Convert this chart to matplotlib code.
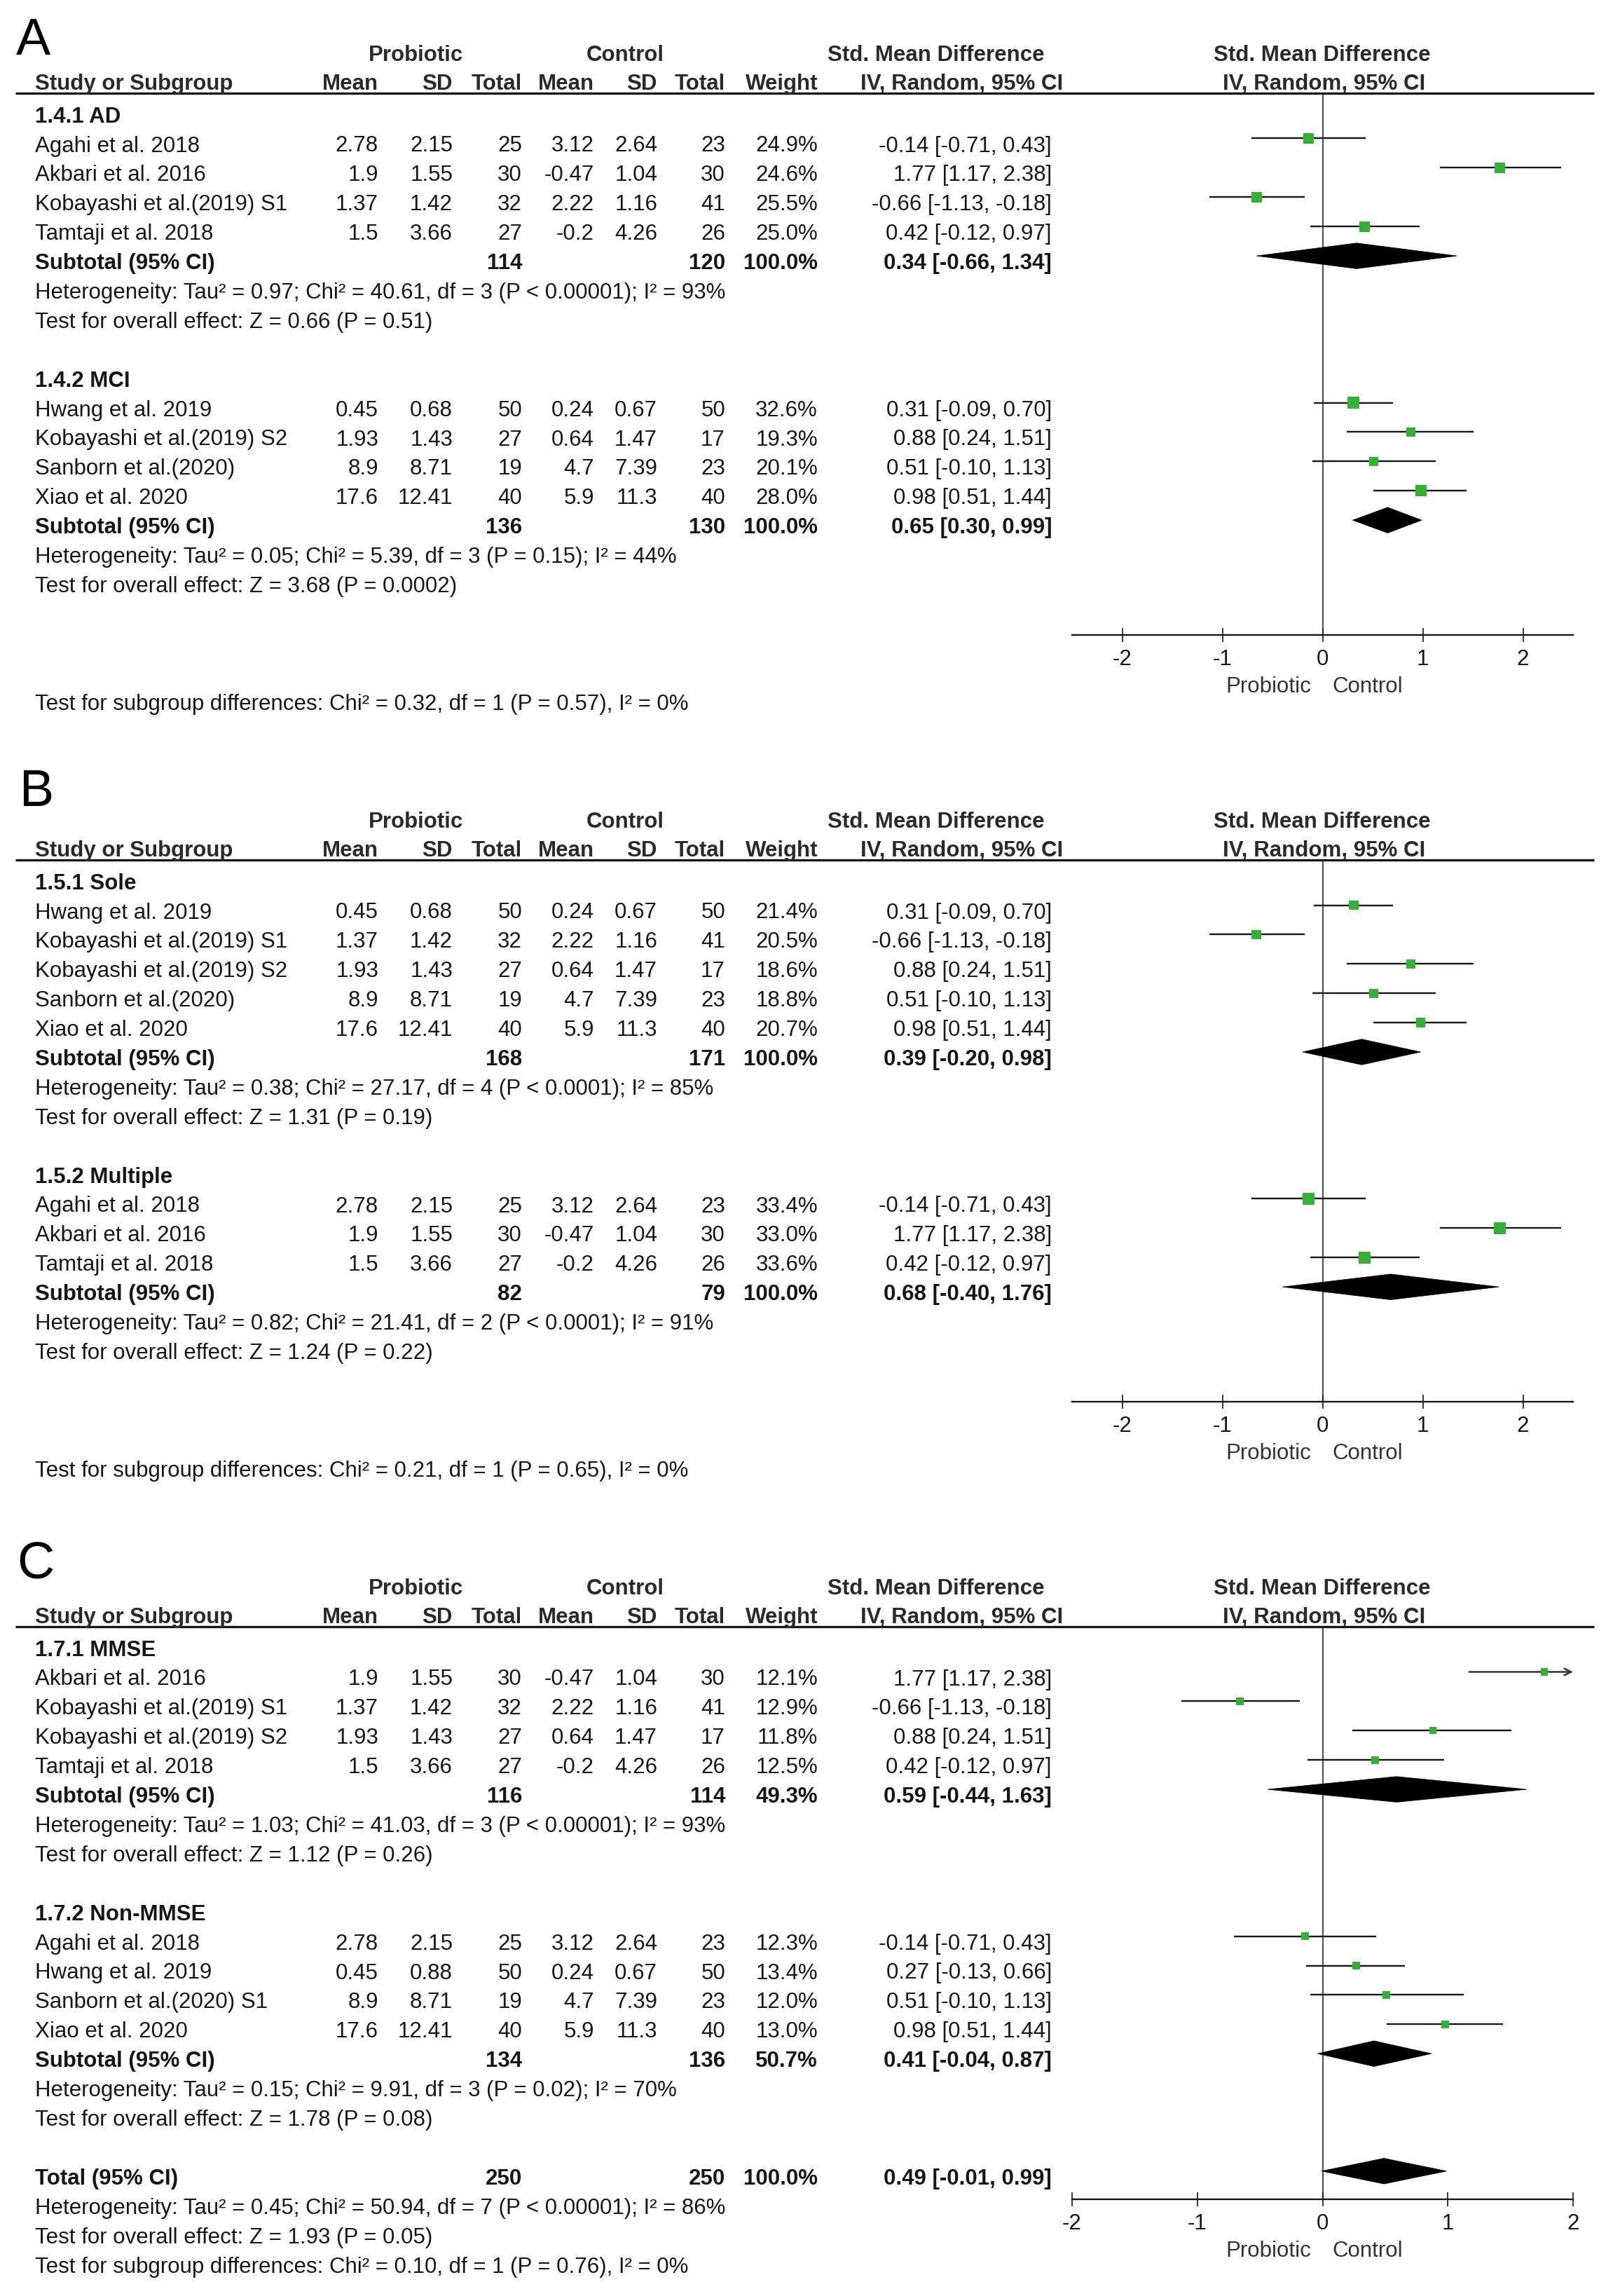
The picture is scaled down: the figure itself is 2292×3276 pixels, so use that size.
import matplotlib.pyplot as plt
from matplotlib.patches import Polygon

plt.rcParams['font.family'] = ['Liberation Sans', 'DejaVu Sans']

W, H, DPI = 2292, 3276, 100
FS = 22.5
INK = '#161616'
HEAD = '#2a2a2a'
GREEN = '#33b035'

# ---------------- panel A ----------------
ad_names = ["Agahi et al. 2018", "Akbari et al. 2016", "Kobayashi et al.(2019) S1", "Tamtaji et al. 2018"]
ad_p_mean = [2.78, 1.9, 1.37, 1.5]
ad_p_sd = [2.15, 1.55, 1.42, 3.66]
ad_p_n = [25, 30, 32, 27]
ad_c_mean = [3.12, -0.47, 2.22, -0.2]
ad_c_sd = [2.64, 1.04, 1.16, 4.26]
ad_c_n = [23, 30, 41, 26]
ad_weight = [24.9, 24.6, 25.5, 25.0]
ad_smd = [-0.14, 1.77, -0.66, 0.42]
ad_lo = [-0.71, 1.17, -1.13, -0.12]
ad_hi = [0.43, 2.38, -0.18, 0.97]
ad_sub = [114, 120, 100.0, 0.34, -0.66, 1.34]
ad_het = "Heterogeneity: Tau² = 0.97; Chi² = 40.61, df = 3 (P < 0.00001); I² = 93%"
ad_z = "Test for overall effect: Z = 0.66 (P = 0.51)"

mci_names = ["Hwang et al. 2019", "Kobayashi et al.(2019) S2", "Sanborn et al.(2020)", "Xiao et al. 2020"]
mci_p_mean = [0.45, 1.93, 8.9, 17.6]
mci_p_sd = [0.68, 1.43, 8.71, 12.41]
mci_p_n = [50, 27, 19, 40]
mci_c_mean = [0.24, 0.64, 4.7, 5.9]
mci_c_sd = [0.67, 1.47, 7.39, 11.3]
mci_c_n = [50, 17, 23, 40]
mci_weight = [32.6, 19.3, 20.1, 28.0]
mci_smd = [0.31, 0.88, 0.51, 0.98]
mci_lo = [-0.09, 0.24, -0.10, 0.51]
mci_hi = [0.70, 1.51, 1.13, 1.44]
mci_sub = [136, 130, 100.0, 0.65, 0.30, 0.99]
mci_het = "Heterogeneity: Tau² = 0.05; Chi² = 5.39, df = 3 (P = 0.15); I² = 44%"
mci_z = "Test for overall effect: Z = 3.68 (P = 0.0002)"
a_subgroup = "Test for subgroup differences: Chi² = 0.32, df = 1 (P = 0.57), I² = 0%"

# ---------------- panel B ----------------
sole_names = ["Hwang et al. 2019", "Kobayashi et al.(2019) S1", "Kobayashi et al.(2019) S2",
              "Sanborn et al.(2020)", "Xiao et al. 2020"]
sole_p_mean = [0.45, 1.37, 1.93, 8.9, 17.6]
sole_p_sd = [0.68, 1.42, 1.43, 8.71, 12.41]
sole_p_n = [50, 32, 27, 19, 40]
sole_c_mean = [0.24, 2.22, 0.64, 4.7, 5.9]
sole_c_sd = [0.67, 1.16, 1.47, 7.39, 11.3]
sole_c_n = [50, 41, 17, 23, 40]
sole_weight = [21.4, 20.5, 18.6, 18.8, 20.7]
sole_smd = [0.31, -0.66, 0.88, 0.51, 0.98]
sole_lo = [-0.09, -1.13, 0.24, -0.10, 0.51]
sole_hi = [0.70, -0.18, 1.51, 1.13, 1.44]
sole_sub = [168, 171, 100.0, 0.39, -0.20, 0.98]
sole_het = "Heterogeneity: Tau² = 0.38; Chi² = 27.17, df = 4 (P < 0.0001); I² = 85%"
sole_z = "Test for overall effect: Z = 1.31 (P = 0.19)"

mult_names = ["Agahi et al. 2018", "Akbari et al. 2016", "Tamtaji et al. 2018"]
mult_p_mean = [2.78, 1.9, 1.5]
mult_p_sd = [2.15, 1.55, 3.66]
mult_p_n = [25, 30, 27]
mult_c_mean = [3.12, -0.47, -0.2]
mult_c_sd = [2.64, 1.04, 4.26]
mult_c_n = [23, 30, 26]
mult_weight = [33.4, 33.0, 33.6]
mult_smd = [-0.14, 1.77, 0.42]
mult_lo = [-0.71, 1.17, -0.12]
mult_hi = [0.43, 2.38, 0.97]
mult_sub = [82, 79, 100.0, 0.68, -0.40, 1.76]
mult_het = "Heterogeneity: Tau² = 0.82; Chi² = 21.41, df = 2 (P < 0.0001); I² = 91%"
mult_z = "Test for overall effect: Z = 1.24 (P = 0.22)"
b_subgroup = "Test for subgroup differences: Chi² = 0.21, df = 1 (P = 0.65), I² = 0%"

# ---------------- panel C ----------------
mmse_names = ["Akbari et al. 2016", "Kobayashi et al.(2019) S1", "Kobayashi et al.(2019) S2", "Tamtaji et al. 2018"]
mmse_p_mean = [1.9, 1.37, 1.93, 1.5]
mmse_p_sd = [1.55, 1.42, 1.43, 3.66]
mmse_p_n = [30, 32, 27, 27]
mmse_c_mean = [-0.47, 2.22, 0.64, -0.2]
mmse_c_sd = [1.04, 1.16, 1.47, 4.26]
mmse_c_n = [30, 41, 17, 26]
mmse_weight = [12.1, 12.9, 11.8, 12.5]
mmse_smd = [1.77, -0.66, 0.88, 0.42]
mmse_lo = [1.17, -1.13, 0.24, -0.12]
mmse_hi = [2.38, -0.18, 1.51, 0.97]
mmse_sub = [116, 114, 49.3, 0.59, -0.44, 1.63]
mmse_het = "Heterogeneity: Tau² = 1.03; Chi² = 41.03, df = 3 (P < 0.00001); I² = 93%"
mmse_z = "Test for overall effect: Z = 1.12 (P = 0.26)"

non_names = ["Agahi et al. 2018", "Hwang et al. 2019", "Sanborn et al.(2020) S1", "Xiao et al. 2020"]
non_p_mean = [2.78, 0.45, 8.9, 17.6]
non_p_sd = [2.15, 0.88, 8.71, 12.41]
non_p_n = [25, 50, 19, 40]
non_c_mean = [3.12, 0.24, 4.7, 5.9]
non_c_sd = [2.64, 0.67, 7.39, 11.3]
non_c_n = [23, 50, 23, 40]
non_weight = [12.3, 13.4, 12.0, 13.0]
non_smd = [-0.14, 0.27, 0.51, 0.98]
non_lo = [-0.71, -0.13, -0.10, 0.51]
non_hi = [0.43, 0.66, 1.13, 1.44]
non_sub = [134, 136, 50.7, 0.41, -0.04, 0.87]
non_het = "Heterogeneity: Tau² = 0.15; Chi² = 9.91, df = 3 (P = 0.02); I² = 70%"
non_z = "Test for overall effect: Z = 1.78 (P = 0.08)"

c_total = [250, 250, 100.0, 0.49, -0.01, 0.99]
c_total_het = "Heterogeneity: Tau² = 0.45; Chi² = 50.94, df = 7 (P < 0.00001); I² = 86%"
c_total_z = "Test for overall effect: Z = 1.93 (P = 0.05)"
c_subgroup = "Test for subgroup differences: Chi² = 0.10, df = 1 (P = 0.76), I² = 0%"

ticks = [-2, -1, 0, 1, 2]


def group(title, names, pm, psd, pn, cm, csd, cn, w, smd, lo, hi, sub, het, z):
    return dict(title=title, names=names, pm=pm, psd=psd, pn=pn, cm=cm, csd=csd,
                cn=cn, w=w, smd=smd, lo=lo, hi=hi, sub=sub, het=het, z=z)


panel_a = [group("1.4.1 AD", ad_names, ad_p_mean, ad_p_sd, ad_p_n, ad_c_mean, ad_c_sd, ad_c_n,
                 ad_weight, ad_smd, ad_lo, ad_hi, ad_sub, ad_het, ad_z),
           group("1.4.2 MCI", mci_names, mci_p_mean, mci_p_sd, mci_p_n, mci_c_mean, mci_c_sd,
                 mci_c_n, mci_weight, mci_smd, mci_lo, mci_hi, mci_sub, mci_het, mci_z)]
panel_b = [group("1.5.1 Sole", sole_names, sole_p_mean, sole_p_sd, sole_p_n, sole_c_mean,
                 sole_c_sd, sole_c_n, sole_weight, sole_smd, sole_lo, sole_hi, sole_sub,
                 sole_het, sole_z),
           group("1.5.2 Multiple", mult_names, mult_p_mean, mult_p_sd, mult_p_n, mult_c_mean,
                 mult_c_sd, mult_c_n, mult_weight, mult_smd, mult_lo, mult_hi, mult_sub,
                 mult_het, mult_z)]
panel_c = [group("1.7.1 MMSE", mmse_names, mmse_p_mean, mmse_p_sd, mmse_p_n, mmse_c_mean,
                 mmse_c_sd, mmse_c_n, mmse_weight, mmse_smd, mmse_lo, mmse_hi, mmse_sub,
                 mmse_het, mmse_z),
           group("1.7.2 Non-MMSE", non_names, non_p_mean, non_p_sd, non_p_n, non_c_mean,
                 non_c_sd, non_c_n, non_weight, non_smd, non_lo, non_hi, non_sub,
                 non_het, non_z)]

# layout (pixels)
M0, DY, BASE = 155.6, 41.9, 19.0
X0, X1 = 1530, 2245
COLS = dict(name=50, pm=540, psd=646, pn=745, cm=848, csd=938, cn=1035, w=1167, ci=1501)

fig = plt.figure(figsize=(W / DPI, H / DPI), dpi=DPI)
tab = fig.add_axes([0, 0, 1, 1])
tab.set_xlim(0, W)
tab.set_ylim(H, 0)
tab.axis('off')


def txt(x, y, s, ha='right', bold=False, color=INK, size=FS):
    tab.text(x, y, s, ha=ha, va='baseline', fontsize=size,
             fontweight='bold' if bold else 'normal', color=color)


def ci_str(e, lo, hi):
    return f"{e:.2f} [{lo:.2f}, {hi:.2f}]"


def summary_row(y, label, vals):
    txt(COLS['name'], y, label, ha='left', bold=True)
    txt(COLS['pn'], y, str(vals[0]), bold=True)
    txt(COLS['cn'], y, str(vals[1]), bold=True)
    txt(COLS['w'], y, f"{vals[2]:.1f}%", bold=True)
    txt(COLS['ci'], y, ci_str(*vals[3:]), bold=True)


def panel(off, letter, letter_pos, groups, lim, axis_row, total=None, subgroup=""):
    row_y = lambda r: off + M0 + r * DY + BASE
    # headers
    txt(letter_pos[0], off + letter_pos[1], letter, ha='left', size=53, color='black')
    for x, s in [(593, "Probiotic"), (892, "Control"), (1336, "Std. Mean Difference"),
                 (1887, "Std. Mean Difference")]:
        txt(x, off + 87, s, ha='center', bold=True, color=HEAD)
    txt(50, off + 128, "Study or Subgroup", ha='left', bold=True, color=HEAD)
    for k, s in [('pm', "Mean"), ('psd', "SD"), ('pn', "Total"), ('cm', "Mean"),
                 ('csd', "SD"), ('cn', "Total"), ('w', "Weight")]:
        txt(COLS[k], off + 128, s, bold=True, color=HEAD)
    txt(1517, off + 128, "IV, Random, 95% CI", bold=True, color=HEAD)
    txt(1890, off + 128, "IV, Random, 95% CI", ha='center', bold=True, color=HEAD)
    tab.plot([22, 2275], [off + 132.5, off + 132.5], color=INK, lw=2.4, solid_capstyle='butt')

    # forest axes
    top_px = off + 132.5
    bot_px = off + M0 + axis_row * DY
    ax = fig.add_axes([X0 / W, 1 - bot_px / H, (X1 - X0) / W, (bot_px - top_px) / H])
    ax.patch.set_alpha(0)
    ax.set_xlim(*lim)
    ax.set_ylim(axis_row, (132.5 - M0) / DY)
    for s in ['top', 'left', 'right']:
        ax.spines[s].set_visible(False)
    ax.spines['bottom'].set_linewidth(1.7)
    ax.spines['bottom'].set_color(INK)
    ax.set_yticks([])
    ax.set_xticks(ticks)
    ax.set_xticklabels([str(t) for t in ticks])
    ax.tick_params(axis='x', direction='inout', length=15, width=1.2, pad=7,
                   labelsize=FS, colors=INK)
    ax.axvline(0, color=INK, lw=1.1, zorder=1)
    ax.annotate("Probiotic", xy=(0, 0), xycoords=('data', 'axes fraction'), xytext=(-16, -82),
                textcoords='offset pixels', ha='right', va='baseline', fontsize=FS, color='#333333')
    ax.annotate("Control", xy=(0, 0), xycoords=('data', 'axes fraction'), xytext=(14, -82),
                textcoords='offset pixels', ha='left', va='baseline', fontsize=FS, color='#333333')

    hh = 18.3 / DY

    def diamond(r, e, lo, hi):
        ax.add_patch(Polygon([(lo, r), (e, r - hh), (hi, r), (e, r + hh)], closed=True,
                             fc='black', ec='black', lw=0.5, zorder=3))

    r = 0
    for g in groups:
        txt(COLS['name'], row_y(r), g['title'], ha='left', bold=True)
        n = len(g['names'])
        rows = [r + 1 + i for i in range(n)]
        for i, rr in enumerate(rows):
            y = row_y(rr)
            txt(COLS['name'], y, g['names'][i], ha='left')
            txt(COLS['pm'], y, str(g['pm'][i]))
            txt(COLS['psd'], y, str(g['psd'][i]))
            txt(COLS['pn'], y, str(g['pn'][i]))
            txt(COLS['cm'], y, str(g['cm'][i]))
            txt(COLS['csd'], y, str(g['csd'][i]))
            txt(COLS['cn'], y, str(g['cn'][i]))
            txt(COLS['w'], y, f"{g['w'][i]:.1f}%")
            txt(COLS['ci'], y, ci_str(g['smd'][i], g['lo'][i], g['hi'][i]))
            lo, hi = g['lo'][i], g['hi'][i]
            if hi > lim[1]:
                # interval runs off the scale: draw an arrow to the edge
                ax.annotate('', xy=(lim[1], rr), xytext=(lo, rr),
                            arrowprops=dict(arrowstyle='->,head_length=0.7,head_width=0.35',
                                            lw=1.8, color='#333333', shrinkA=0, shrinkB=0))
            else:
                ax.hlines(rr, lo, hi, color=INK, lw=1.7, zorder=2)
        side = [15.0 * (wt / 25.0) ** 0.5 * 72 / DPI for wt in g['w']]
        ax.scatter(g['smd'], rows, marker='s', s=[v ** 2 for v in side], c=GREEN,
                   linewidths=0, zorder=4)
        sr = r + n + 1
        summary_row(row_y(sr), "Subtotal (95% CI)", g['sub'])
        diamond(sr, g['sub'][3], g['sub'][4], g['sub'][5])
        txt(COLS['name'], row_y(sr + 1), g['het'], ha='left')
        txt(COLS['name'], row_y(sr + 2), g['z'], ha='left')
        r = sr + 4

    if total is not None:
        vals, het, z = total
        summary_row(row_y(r), "Total (95% CI)", vals)
        diamond(r, vals[3], vals[4], vals[5])
        txt(COLS['name'], row_y(r + 1), het, ha='left')
        txt(COLS['name'], row_y(r + 2), z, ha='left')
        txt(COLS['name'], row_y(r + 3), subgroup, ha='left')
    else:
        txt(COLS['name'], row_y(r + 2), subgroup, ha='left')


panel(0, "A", (23, 78), panel_a, (-2.5, 2.5), 17.9, subgroup=a_subgroup)
panel(1094, "B", (28, 56), panel_b, (-2.5, 2.5), 17.9, subgroup=b_subgroup)
panel(2188, "C", (24, 64), panel_c, (-2, 2), 18.95, total=(c_total, c_total_het, c_total_z),
      subgroup=c_subgroup)

fig.savefig("out.png", dpi=DPI, facecolor='white')
